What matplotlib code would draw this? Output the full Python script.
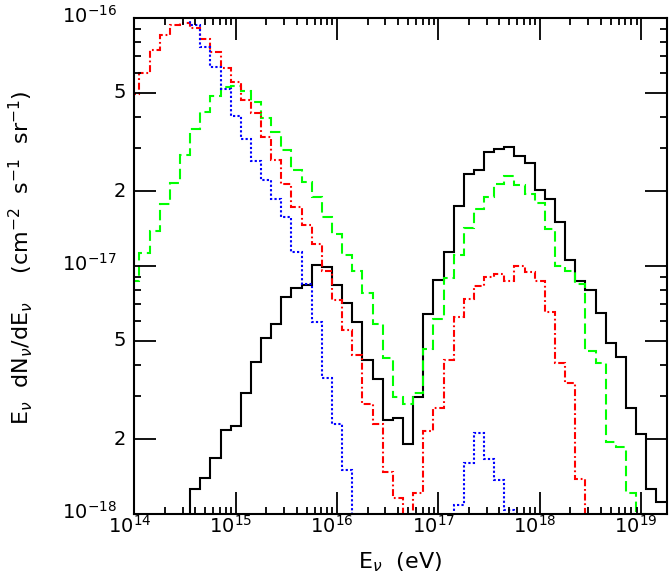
import numpy as np
import matplotlib
matplotlib.use('Agg')
import matplotlib.pyplot as plt
from matplotlib.ticker import FixedLocator, LogLocator, NullFormatter

# histograms in bins of 0.1 in log10(E/eV); each list starts at the bin centre given
dlog = 0.1

# total (solid black)
tot_start = 14.5
tot = [5e-19, 1.26e-18, 1.40e-18, 1.68e-18, 2.18e-18,
       2.26e-18, 3.07e-18, 4.11e-18, 5.14e-18, 5.82e-18, 7.48e-18, 8.13e-18, 8.36e-18, 1.01e-17, 9.91e-18,
       8.38e-18, 7.12e-18, 5.96e-18, 4.17e-18, 3.51e-18, 2.39e-18, 2.43e-18, 1.92e-18, 2.95e-18, 6.41e-18,
       8.81e-18, 1.14e-17, 1.75e-17, 2.36e-17, 2.44e-17, 2.87e-17, 2.96e-17, 3.03e-17, 2.79e-17, 2.60e-17,
       2.03e-17, 1.86e-17, 1.50e-17, 1.06e-17, 8.68e-18, 8.00e-18, 6.45e-18, 4.91e-18, 4.31e-18, 2.67e-18,
       2.10e-18, 1.26e-18, 1.12e-18]

# green dashed
grn_start = 14.0
grn = [8.70e-18, 1.13e-17, 1.38e-17, 1.78e-17, 2.17e-17, 2.80e-17, 3.58e-17, 4.19e-17, 4.83e-17, 5.26e-17,
       5.34e-17, 5.08e-17, 4.58e-17, 3.94e-17, 3.48e-17, 2.94e-17, 2.44e-17, 2.19e-17, 1.90e-17, 1.57e-17,
       1.35e-17, 1.11e-17, 9.57e-18, 7.76e-18, 5.84e-18, 4.25e-18, 2.95e-18, 2.78e-18, 3.07e-18, 4.64e-18,
       6.13e-18, 8.96e-18, 1.11e-17, 1.42e-17, 1.69e-17, 1.89e-17, 2.14e-17, 2.31e-17, 2.13e-17, 1.95e-17,
       1.79e-17, 1.41e-17, 1.00e-17, 9.57e-18, 8.46e-18, 4.54e-18, 4.05e-18, 1.96e-18, 1.87e-18, 1.21e-18,
       1.0e-18]

# red dash-dot
red_start = 14.0
red = [4.92e-17, 5.98e-17, 7.43e-17, 8.54e-17, 9.37e-17, 9.52e-17, 9.09e-17, 8.21e-17, 7.27e-17, 6.27e-17,
       5.50e-17, 4.68e-17, 4.13e-17, 3.32e-17, 2.68e-17, 2.14e-17, 1.73e-17, 1.46e-17, 1.23e-17, 9.55e-18,
       7.29e-18, 5.52e-18, 4.38e-18, 2.78e-18, 2.31e-18, 1.48e-18, 1.16e-18, 5e-19, 1.21e-18, 2.16e-18,
       2.68e-18, 4.18e-18, 6.25e-18, 7.34e-18, 8.31e-18, 9.06e-18, 9.26e-18, 8.70e-18, 1.00e-17, 9.48e-18,
       8.70e-18, 6.51e-18, 4.05e-18, 3.38e-18, 1.38e-18, 5e-19]

# blue dotted, two pieces
blu1_start = 14.5
blu1 = [1.2e-16, 9.37e-17, 7.66e-17, 6.32e-17, 5.16e-17,
        4.03e-17, 3.26e-17, 2.64e-17, 2.23e-17, 1.87e-17, 1.57e-17, 1.14e-17, 8.44e-18, 5.96e-18, 3.55e-18,
        2.30e-18, 1.50e-18, 5e-19]
blu2_start = 17.1
blu2 = [5e-19, 1.09e-18, 1.61e-18, 2.12e-18, 1.66e-18, 1.37e-18, 1.04e-18, 5e-19]

# axis ticks and labels
xmaj = [1e14, 1e15, 1e16, 1e17, 1e18, 1e19]
xlab = [r'$10^{14}$', r'$10^{15}$', r'$10^{16}$', r'$10^{17}$', r'$10^{18}$', r'$10^{19}$']
ymaj = [1e-18, 2e-18, 5e-18, 1e-17, 2e-17, 5e-17, 1e-16]
ylab = [r'$10^{-18}$', '2', '5', r'$10^{-17}$', '2', '5', r'$10^{-16}$']
ymin = [3e-18, 4e-18, 6e-18, 7e-18, 8e-18, 9e-18, 3e-17, 4e-17, 6e-17, 7e-17, 8e-17, 9e-17]


def edges(start, vals):
    return 10 ** (start - dlog / 2 + dlog * np.arange(len(vals) + 1))


plt.rcParams['lines.scale_dashes'] = False
plt.rcParams['mathtext.fontset'] = 'dejavusans'

fig = plt.figure(figsize=(6.72, 5.81), dpi=100)
ax = fig.add_axes([0.2, 0.1153, 0.7926, 0.8537])

lw = 1.5
ax.stairs(tot, edges(tot_start, tot), baseline=None, color='k', lw=lw)
ax.stairs(grn, edges(grn_start, grn), baseline=None, color='#00ff00', lw=lw,
          linestyle=(0, (7.5, 3.5)))
ax.stairs(red, edges(red_start, red), baseline=None, color='#ff0000', lw=lw,
          linestyle=(0, (5, 2, 1.3, 2)))
for s, v in [(blu1_start, blu1), (blu2_start, blu2)]:
    ax.stairs(v, edges(s, v), baseline=None, color='#0000ff', lw=lw,
              linestyle=(0, (1.6, 1.6)))

ax.set_xscale('log')
ax.set_yscale('log')
ax.set_xlim(1e14, 1.8e19)
ax.set_ylim(1e-18, 1e-16)

ax.xaxis.set_major_locator(FixedLocator(xmaj))
ax.xaxis.set_minor_locator(LogLocator(base=10, subs=np.arange(2, 10)))
ax.yaxis.set_major_locator(FixedLocator(ymaj))
ax.yaxis.set_minor_locator(FixedLocator(ymin))
for a in (ax.xaxis, ax.yaxis):
    a.set_major_formatter(NullFormatter())
    a.set_minor_formatter(NullFormatter())

ax.tick_params(which='both', direction='in', top=True, right=True, width=1.3)
ax.tick_params(which='major', length=15.5)
ax.tick_params(which='minor', length=5)
for sp in ax.spines.values():
    sp.set_linewidth(1.5)

# tick labels placed by hand: decades sit further out than the 2 and 5 labels
for x, lab in zip(xmaj, xlab):
    ax.annotate(lab, xy=(x, 0), xycoords=('data', 'axes fraction'), xytext=(-3.6, -0.5),
                textcoords='offset points', ha='center', va='top', fontsize=14)
for y, lab in zip(ymaj, ylab):
    dx = -12.5 if lab.startswith('$') else -6
    dy = 1.5 if lab.startswith('$') else 0
    ax.annotate(lab, xy=(0, y), xycoords=('axes fraction', 'data'), xytext=(dx, dy),
                textcoords='offset points', ha='right', va='center', fontsize=14,
                annotation_clip=False)

fig.text(21 / 672, 1 - 258 / 581,
         r'E$_\nu$  dN$_\nu$/dE$_\nu$    (cm$^{-2}$  s$^{-1}$  sr$^{-1}$)',
         rotation=90, ha='center', va='center', fontsize=16)
fig.text(400 / 672, 1 - 568 / 581, r'E$_\nu$  (eV)', ha='center', va='baseline', fontsize=16)

fig.savefig('out.png', dpi=100)
